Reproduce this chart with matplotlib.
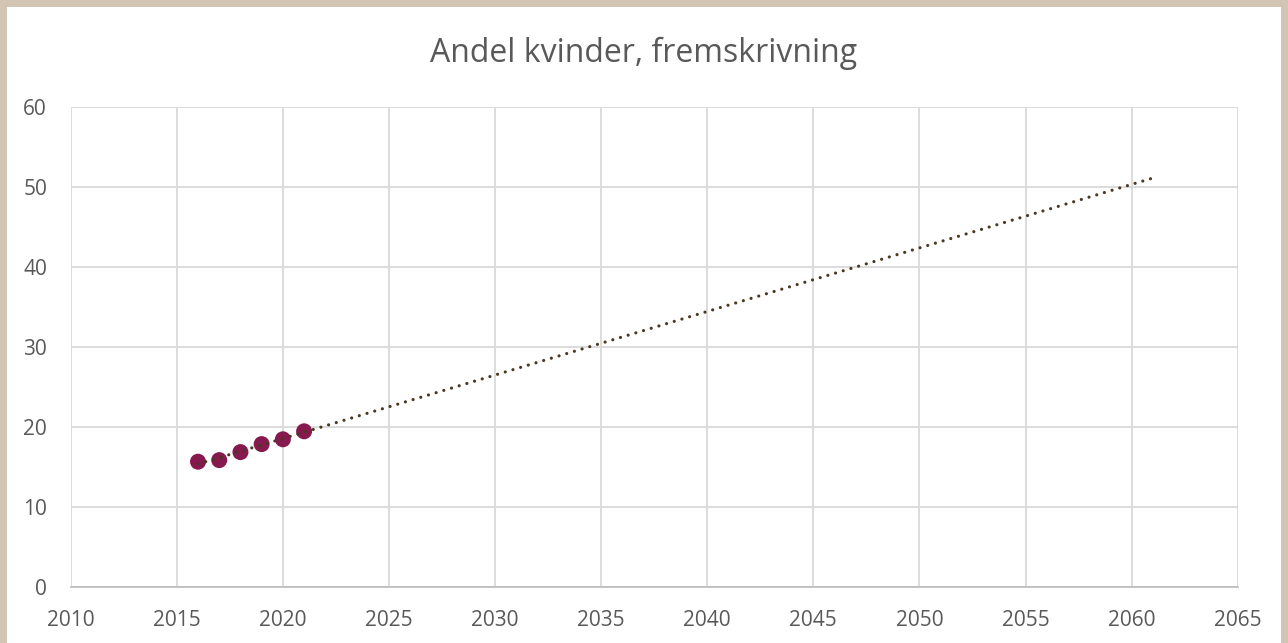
import numpy as np
import matplotlib
matplotlib.use("Agg")
import matplotlib.pyplot as plt
from matplotlib.patches import Rectangle

# data
years = [2016, 2017, 2018, 2019, 2020, 2021]
andel = [15.7, 15.9, 16.9, 17.9, 18.5, 19.5]
trend_end = 2061

x_ticks = list(range(2010, 2066, 5))
y_ticks = list(range(0, 61, 10))

plt.rcParams['font.family'] = ['Open Sans', 'DejaVu Sans']
txt_col = '#595959'

fig = plt.figure(figsize=(12.88, 6.43), dpi=100)
fig.patch.set_facecolor('#D3C5B4')
# white chart area inside the beige frame
fig.patches.append(Rectangle((7/1288, 0), 1274/1288, 636/643,
                             transform=fig.transFigure, facecolor='white',
                             edgecolor='none', zorder=-10))

ax = fig.add_axes([70.7/1288, 1 - 587.3/643, 1167/1288, 480/643])
ax.set_facecolor('none')

ax.scatter(years, andel, s=16**2 * 0.72**2, color='#861A4E', zorder=3,
           edgecolors='none')

# linear trendline projected forward
k, m = np.polyfit(years, andel, 1)
tx = np.array([years[0], trend_end])
ax.plot(tx, k*tx + m, color='#4B3823', lw=2.3, linestyle=(0, (0.01, 2.5)),
        dash_capstyle='round', zorder=4)

ax.set_xlim(2010, 2065)
ax.set_ylim(0, 60)
ax.set_xticks(x_ticks)
ax.set_yticks(y_ticks)
ax.grid(True, color='#D9D9D9', lw=1.3)
ax.set_axisbelow(True)
for s in ['left', 'right', 'top']:
    ax.spines[s].set_visible(False)
ax.spines['bottom'].set_color('#BFBFBF')
ax.spines['bottom'].set_linewidth(1.3)
ax.tick_params(length=0, labelsize=15, colors=txt_col)
ax.tick_params(axis='x', pad=16)
ax.tick_params(axis='y', pad=17)

fig.text(0.5, 1 - 53/643, 'Andel kvinder, fremskrivning', ha='center',
         va='center', fontsize=23, color=txt_col)

fig.savefig('out.png', dpi=100, facecolor=fig.get_facecolor())
